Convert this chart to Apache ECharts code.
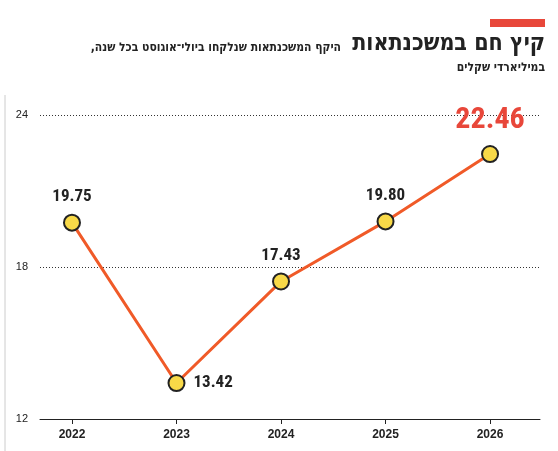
<!DOCTYPE html>
<html><head><meta charset="utf-8">
<script src="https://cdn.jsdelivr.net/npm/echarts@6/dist/echarts.min.js"></script>
<style>body{margin:0;background:#fff}#c{width:558px;height:451px}</style></head>
<body><div id="c"></div>
<script>
const years = [2022, 2023, 2024, 2025, 2026];
const values = [19.75, 13.42, 17.43, 19.80, 22.46];
const labels = ['19.75', '13.42', '17.43', '19.80', '22.46'];
const yTicks = [12, 18, 24];

const chart = echarts.init(document.getElementById('c'));
const data = years.map((y, i) => {
  const d = { value: [y, values[i]], label: { formatter: labels[i] } };
  if (i === 1) d.label.position = 'right';
  if (i === 4) d.label = { formatter: labels[i], color: '#e8473a', fontSize: 30, fontFamily: 'Roboto Condensed, Liberation Sans Narrow, Roboto', distance: 10 };
  return d;
});
const HF = '"DejaVu Sans Condensed", "DejaVu Sans"';
chart.setOption({
  animation: false,
  graphic: [
    { type: 'rect', right: 13, top: 19, shape: { width: 55, height: 8 }, style: { fill: '#e8473a' } },
    { type: 'text', right: 13, top: 33, style: { text: 'קיץ חם במשכנתאות', font: 'bold 23px ' + HF, fill: '#222', textAlign: 'right' } },
    { type: 'text', right: 217, top: 42, style: { text: '\u202Bהיקף המשכנתאות שנלקחו ביולי־אוגוסט בכל שנה,\u202C', font: 'bold 12px ' + HF, fill: '#222', textAlign: 'right' } },
    { type: 'text', right: 13, top: 62, style: { text: 'במיליארדי שקלים', font: 'bold 12px ' + HF, fill: '#222', textAlign: 'right' } },
    { type: 'line', shape: { x1: 5, y1: 95, x2: 5, y2: 451 }, style: { stroke: '#ccc', lineWidth: 1 } }
  ],
  grid: { left: 40, right: 18, top: 115, bottom: 32 },
  xAxis: {
    type: 'value', min: 2021.694, max: 2026.478,
    splitLine: { show: false },
    axisLine: { show: true, lineStyle: { color: '#222', width: 1 } },
    axisTick: { show: true, customValues: years, length: 5, lineStyle: { color: '#222' } },
    axisLabel: { customValues: years, color: '#222', fontWeight: 'bold', fontSize: 12, margin: 10, formatter: v => String(Math.round(v)) }
  },
  yAxis: {
    type: 'value', min: 12, max: 24, interval: 6,
    axisLine: { show: false }, axisTick: { show: false },
    axisLabel: { color: '#222', fontSize: 11, margin: 12, formatter: v => yTicks.includes(v) ? String(v) : '' },
    splitLine: { lineStyle: { color: '#333', type: [1, 2], width: 1 } }
  },
  series: [{
    type: 'line', data: data,
    lineStyle: { color: '#f05a28', width: 3 },
    symbol: 'circle', symbolSize: 16,
    itemStyle: { color: '#f8d948', borderColor: '#222', borderWidth: 2 },
    label: { show: true, position: 'top', distance: 8, color: '#222', fontWeight: 'bold', fontSize: 17, fontFamily: 'Roboto Condensed, Liberation Sans Narrow, Roboto' }
  }]
});
</script></body></html>
